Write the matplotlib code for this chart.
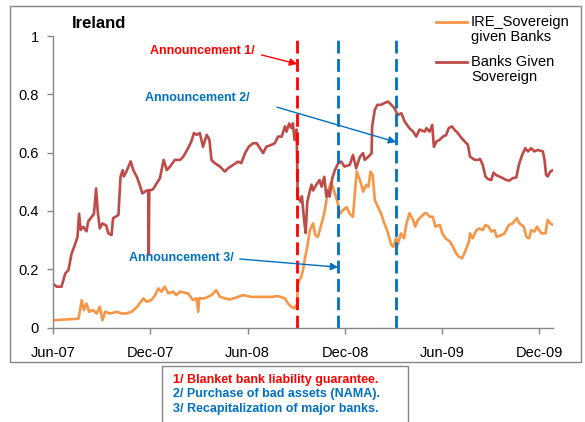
import matplotlib
matplotlib.use("Agg")
import matplotlib.pyplot as plt
import matplotlib.dates as mdates
from matplotlib.lines import Line2D
from matplotlib.patches import Rectangle
import pandas as pd

plt.rcParams['font.family'] = ['Liberation Sans', 'DejaVu Sans']

# ---- data -------------------------------------------------------------
banks_dates = [
    "2007-06-01", "2007-06-08", "2007-06-17", "2007-06-24", "2007-06-30", "2007-07-06",
    "2007-07-12", "2007-07-17", "2007-07-20", "2007-07-23", "2007-07-28", "2007-08-03",
    "2007-08-06", "2007-08-13", "2007-08-17", "2007-08-21", "2007-08-24", "2007-08-28",
    "2007-09-02", "2007-09-09", "2007-09-13", "2007-09-19", "2007-09-22", "2007-10-02",
    "2007-10-06", "2007-10-10", "2007-10-12", "2007-10-17", "2007-10-25", "2007-10-30",
    "2007-11-06", "2007-11-11", "2007-11-16", "2007-11-24", "2007-11-27", "2007-11-28",
    "2007-11-29", "2007-12-06", "2007-12-13", "2007-12-19", "2007-12-26", "2008-01-01",
    "2008-01-07", "2008-01-16", "2008-01-26", "2008-02-01", "2008-02-10", "2008-02-16",
    "2008-02-21", "2008-02-26", "2008-03-03", "2008-03-09", "2008-03-16", "2008-03-21",
    "2008-03-25", "2008-03-31", "2008-04-10", "2008-04-19", "2008-04-25", "2008-05-05",
    "2008-05-14", "2008-05-20", "2008-05-27", "2008-06-03", "2008-06-11", "2008-06-18",
    "2008-06-24", "2008-06-30", "2008-07-06", "2008-07-16", "2008-07-22", "2008-07-28",
    "2008-08-04", "2008-08-10", "2008-08-13", "2008-08-18", "2008-08-22", "2008-08-25",
    "2008-08-28", "2008-09-01", "2008-09-03", "2008-09-09", "2008-09-11", "2008-09-15",
    "2008-09-18", "2008-09-21", "2008-09-26", "2008-09-29", "2008-10-02", "2008-10-08",
    "2008-10-14", "2008-10-18", "2008-10-23", "2008-10-27", "2008-10-30", "2008-11-02",
    "2008-11-07", "2008-11-12", "2008-11-18", "2008-11-24", "2008-11-30", "2008-12-10",
    "2008-12-16", "2008-12-22", "2008-12-29", "2009-01-04", "2009-01-07", "2009-01-14",
    "2009-01-20", "2009-01-21", "2009-01-26", "2009-01-31", "2009-02-07", "2009-02-13",
    "2009-02-20", "2009-02-26", "2009-03-04", "2009-03-10", "2009-03-17", "2009-03-23",
    "2009-04-01", "2009-04-08", "2009-04-14", "2009-04-20", "2009-04-30", "2009-05-03",
    "2009-05-09", "2009-05-14", "2009-05-17", "2009-05-22", "2009-05-28", "2009-06-03",
    "2009-06-09", "2009-06-14", "2009-06-20", "2009-06-25", "2009-07-01", "2009-07-08",
    "2009-07-14", "2009-07-20", "2009-07-24", "2009-08-02", "2009-08-08", "2009-08-12",
    "2009-08-17", "2009-08-22", "2009-08-27", "2009-09-02", "2009-09-06", "2009-09-11",
    "2009-09-17", "2009-09-24", "2009-09-30", "2009-10-06", "2009-10-12", "2009-10-19",
    "2009-10-24", "2009-10-30", "2009-11-05", "2009-11-10", "2009-11-16", "2009-11-22",
    "2009-11-28", "2009-12-08", "2009-12-11", "2009-12-14", "2009-12-17", "2009-12-22",
    "2009-12-27",
]
banks_given_sovereign = [
    0.150, 0.140, 0.140, 0.185, 0.197, 0.254,
    0.283, 0.310, 0.390, 0.335, 0.345, 0.330,
    0.363, 0.380, 0.390, 0.477, 0.400, 0.340,
    0.357, 0.350, 0.323, 0.317, 0.375, 0.386,
    0.518, 0.540, 0.518, 0.535, 0.570, 0.540,
    0.515, 0.489, 0.460, 0.470, 0.470, 0.250,
    0.470, 0.474, 0.495, 0.512, 0.575, 0.540,
    0.552, 0.575, 0.575, 0.586, 0.615, 0.638,
    0.667, 0.661, 0.667, 0.620, 0.661, 0.644,
    0.575, 0.564, 0.552, 0.535, 0.546, 0.558,
    0.569, 0.564, 0.598, 0.620, 0.632, 0.632,
    0.615, 0.598, 0.620, 0.627, 0.632, 0.655,
    0.655, 0.690, 0.672, 0.700, 0.684, 0.700,
    0.644, 0.679, 0.450, 0.430, 0.450, 0.370,
    0.324, 0.430, 0.470, 0.490, 0.470, 0.490,
    0.506, 0.483, 0.517, 0.449, 0.470, 0.449,
    0.512, 0.540, 0.563, 0.569, 0.552, 0.558,
    0.592, 0.546, 0.586, 0.598, 0.575, 0.586,
    0.598, 0.690, 0.747, 0.764, 0.764, 0.770,
    0.775, 0.764, 0.752, 0.729, 0.735, 0.707,
    0.684, 0.672, 0.655, 0.679, 0.672, 0.684,
    0.672, 0.695, 0.620, 0.638, 0.644, 0.655,
    0.660, 0.684, 0.690, 0.678, 0.667, 0.650,
    0.638, 0.627, 0.586, 0.575, 0.575, 0.578,
    0.557, 0.518, 0.509, 0.506, 0.531, 0.523,
    0.518, 0.512, 0.506, 0.504, 0.512, 0.515,
    0.559, 0.592, 0.615, 0.604, 0.615, 0.604,
    0.609, 0.604, 0.575, 0.524, 0.518, 0.535,
    0.540,
]

sov_dates = [
    "2007-06-01", "2007-06-20", "2007-07-19", "2007-07-25", "2007-07-29", "2007-08-03",
    "2007-08-08", "2007-08-15", "2007-08-22", "2007-08-28", "2007-09-02", "2007-09-07",
    "2007-09-16", "2007-09-29", "2007-10-08", "2007-10-17", "2007-10-27", "2007-11-06",
    "2007-11-18", "2007-11-24", "2007-12-03", "2007-12-10", "2007-12-16", "2007-12-22",
    "2007-12-28", "2008-01-04", "2008-01-13", "2008-01-19", "2008-01-26", "2008-02-10",
    "2008-02-19", "2008-02-26", "2008-02-29", "2008-03-02", "2008-03-12", "2008-03-25",
    "2008-04-03", "2008-04-10", "2008-04-19", "2008-04-28", "2008-05-14", "2008-05-23",
    "2008-06-08", "2008-06-27", "2008-07-16", "2008-07-28", "2008-08-10", "2008-08-16",
    "2008-08-22", "2008-08-28", "2008-09-02", "2008-09-03", "2008-09-07", "2008-09-10",
    "2008-09-13", "2008-09-16", "2008-09-21", "2008-09-26", "2008-10-02", "2008-10-06",
    "2008-10-11", "2008-10-18", "2008-10-23", "2008-10-27", "2008-10-31", "2008-11-04",
    "2008-11-08", "2008-11-12", "2008-11-17", "2008-11-21", "2008-11-27", "2008-12-04",
    "2008-12-10", "2008-12-16", "2008-12-20", "2008-12-23", "2008-12-29", "2009-01-04",
    "2009-01-10", "2009-01-14", "2009-01-18", "2009-01-22", "2009-01-26", "2009-02-01",
    "2009-02-07", "2009-02-13", "2009-02-20", "2009-02-26", "2009-03-02", "2009-03-07",
    "2009-03-10", "2009-03-16", "2009-03-22", "2009-03-26", "2009-04-01", "2009-04-08",
    "2009-04-12", "2009-04-17", "2009-04-23", "2009-04-30", "2009-05-03", "2009-05-09",
    "2009-05-15", "2009-05-20", "2009-05-28", "2009-06-02", "2009-06-08", "2009-06-16",
    "2009-06-22", "2009-06-28", "2009-07-03", "2009-07-09", "2009-07-16", "2009-07-22",
    "2009-07-24", "2009-07-29", "2009-08-05", "2009-08-11", "2009-08-17", "2009-08-22",
    "2009-08-28", "2009-09-02", "2009-09-08", "2009-09-12", "2009-09-21", "2009-09-27",
    "2009-10-05", "2009-10-12", "2009-10-20", "2009-10-25", "2009-11-02", "2009-11-07",
    "2009-11-12", "2009-11-16", "2009-11-22", "2009-11-27", "2009-12-05", "2009-12-13",
    "2009-12-17", "2009-12-22", "2009-12-27",
]
sovereign_given_banks = [
    0.025, 0.027, 0.030, 0.094, 0.060, 0.082,
    0.054, 0.060, 0.048, 0.071, 0.025, 0.054,
    0.048, 0.054, 0.048, 0.048, 0.054, 0.071,
    0.100, 0.088, 0.094, 0.111, 0.134, 0.123,
    0.140, 0.117, 0.123, 0.111, 0.123, 0.117,
    0.094, 0.100, 0.054, 0.100, 0.100, 0.111,
    0.128, 0.105, 0.100, 0.096, 0.105, 0.111,
    0.105, 0.105, 0.105, 0.108, 0.100, 0.082,
    0.071, 0.066, 0.080, 0.150, 0.165, 0.175,
    0.197, 0.230, 0.277, 0.334, 0.357, 0.317,
    0.311, 0.357, 0.392, 0.437, 0.472, 0.495,
    0.483, 0.460, 0.430, 0.390, 0.402, 0.413,
    0.390, 0.380, 0.472, 0.535, 0.506, 0.466,
    0.489, 0.483, 0.535, 0.523, 0.437, 0.413,
    0.390, 0.357, 0.323, 0.283, 0.277, 0.306,
    0.283, 0.323, 0.306, 0.352, 0.392, 0.369,
    0.346, 0.369, 0.380, 0.392, 0.392, 0.380,
    0.380, 0.346, 0.352, 0.323, 0.306, 0.295,
    0.277, 0.254, 0.243, 0.237, 0.266, 0.295,
    0.323, 0.306, 0.334, 0.340, 0.334, 0.352,
    0.346, 0.329, 0.334, 0.311, 0.317, 0.323,
    0.352, 0.357, 0.375, 0.357, 0.346, 0.311,
    0.306, 0.334, 0.329, 0.346, 0.323, 0.323,
    0.369, 0.357, 0.352,
]

event_dates = ["2008-09-02", "2008-11-18", "2009-03-07"]
event_labels = ["Announcement 1/", "Announcement 2/", "Announcement 3/"]
event_notes = ["1/ Blanket bank liability guarantee.",
               "2/ Purchase of bad assets (NAMA).",
               "3/ Recapitalization of major banks."]
tick_dates = ["2007-06-01", "2007-12-01", "2008-06-01", "2008-12-01", "2009-06-01", "2009-12-01"]
y_ticks = [0, 0.2, 0.4, 0.6, 0.8, 1]

# ---- styling ----------------------------------------------------------
W, H = 585, 422
ORANGE = "#F79646"
DARKRED = "#BE4B48"
RED = "#FF0000"
BLUE = "#0070C0"
GRAY = "#868686"


def fp(x, y):
    """pixel position (from top-left) -> figure fraction"""
    return x / W, 1 - y / H


fig = plt.figure(figsize=(W / 100, H / 100), dpi=100)
ax = fig.add_axes([53 / W, 1 - 327.5 / H, (553 - 53) / W, (327.5 - 36) / H])

sd = pd.to_datetime(sov_dates)
bd = pd.to_datetime(banks_dates)
ev = pd.to_datetime(event_dates)

ax.plot(sd, sovereign_given_banks, color=ORANGE, lw=1.9, solid_joinstyle="round")
ax.plot(bd, banks_given_sovereign, color=DARKRED, lw=1.9, solid_joinstyle="round")

ax.axvline(ev[0], color=RED, lw=2.0, dashes=(4.6, 2.0), ymax=1.0)
ax.axvline(ev[1], color=BLUE, lw=2.0, dashes=(4.6, 2.0), ymax=1.0)
ax.axvline(ev[2], color=BLUE, lw=2.0, dashes=(4.6, 2.0), ymax=1.0)

ax.set_ylim(0, 1)
ax.set_xlim(pd.Timestamp("2007-06-01"), pd.Timestamp("2009-12-27"))
ax.set_yticks(y_ticks)
ax.set_yticklabels([f"{v:g}" for v in y_ticks])
ax.set_xticks(pd.to_datetime(tick_dates))
ax.xaxis.set_major_formatter(mdates.DateFormatter("%b-%y"))

for s in ("top", "right"):
    ax.spines[s].set_visible(False)
for s in ("left", "bottom"):
    ax.spines[s].set_color(GRAY)
    ax.spines[s].set_linewidth(1.0)
ax.tick_params(axis="both", colors=GRAY, labelcolor="black", labelsize=10.5,
               length=4, width=1.0, direction="out")
ax.tick_params(axis="x", pad=9)
ax.tick_params(axis="y", pad=6)

# announcement labels and arrows
ann_style = dict(fontsize=9, fontweight="bold")
ax.text(pd.Timestamp("2007-11-30"), 0.949, event_labels[0], color=RED, va="center", **ann_style)
ax.annotate("", xy=(ev[0], 0.904), xytext=(pd.Timestamp("2008-06-27"), 0.935),
            arrowprops=dict(arrowstyle="-|>", color=RED, lw=1.0, mutation_scale=11,
                            shrinkA=0, shrinkB=0))
ax.text(pd.Timestamp("2007-11-21"), 0.787, event_labels[1], color=BLUE, va="center", **ann_style)
ax.annotate("", xy=(ev[2], 0.636), xytext=(pd.Timestamp("2008-07-26"), 0.756),
            arrowprops=dict(arrowstyle="-|>", color=BLUE, lw=1.0, mutation_scale=11,
                            shrinkA=0, shrinkB=0))
ax.text(pd.Timestamp("2007-10-22"), 0.238, event_labels[2], color=BLUE, va="center", **ann_style)
ax.annotate("", xy=(ev[1], 0.207), xytext=(pd.Timestamp("2008-05-17"), 0.235),
            arrowprops=dict(arrowstyle="-|>", color=BLUE, lw=1.0, mutation_scale=11,
                            shrinkA=0, shrinkB=0))

# title
fig.text(*fp(72, 24), "Ireland", fontsize=12, fontweight="bold", va="center", ha="left")

# legend
legend_rows = [(ORANGE, ["IRE_Sovereign", "given Banks"], 22),
               (DARKRED, ["Banks Given", "Sovereign"], 62)]
for color, lines, y0 in legend_rows:
    x0, yy = fp(436, y0)
    x1, _ = fp(467, y0)
    fig.add_artist(Line2D([x0, x1], [yy, yy], color=color, lw=2.0,
                          transform=fig.transFigure))
    for i, t in enumerate(lines):
        fig.text(*fp(471, y0 + 15 * i), t, fontsize=10.5, va="center", ha="left")

# outer chart frame
fx0, fy0 = fp(10, 362)
fx1, fy1 = fp(581, 6)
fig.add_artist(Rectangle((fx0, fy0), fx1 - fx0, fy1 - fy0, transform=fig.transFigure,
                         fill=False, edgecolor=GRAY, lw=1.0))

# notes box
bx0, by0 = fp(162, 430)
bx1, by1 = fp(408, 366)
fig.add_artist(Rectangle((bx0, by0), bx1 - bx0, by1 - by0, transform=fig.transFigure,
                         facecolor="white", edgecolor=GRAY, lw=1.0))
note_colors = [RED, BLUE, BLUE]
for i, (t, c) in enumerate(zip(event_notes, note_colors)):
    fig.text(*fp(173, 380 + 14.5 * i), t, color=c, fontsize=9, fontweight="bold",
             va="center", ha="left")

fig.savefig("out.png", dpi=100)
